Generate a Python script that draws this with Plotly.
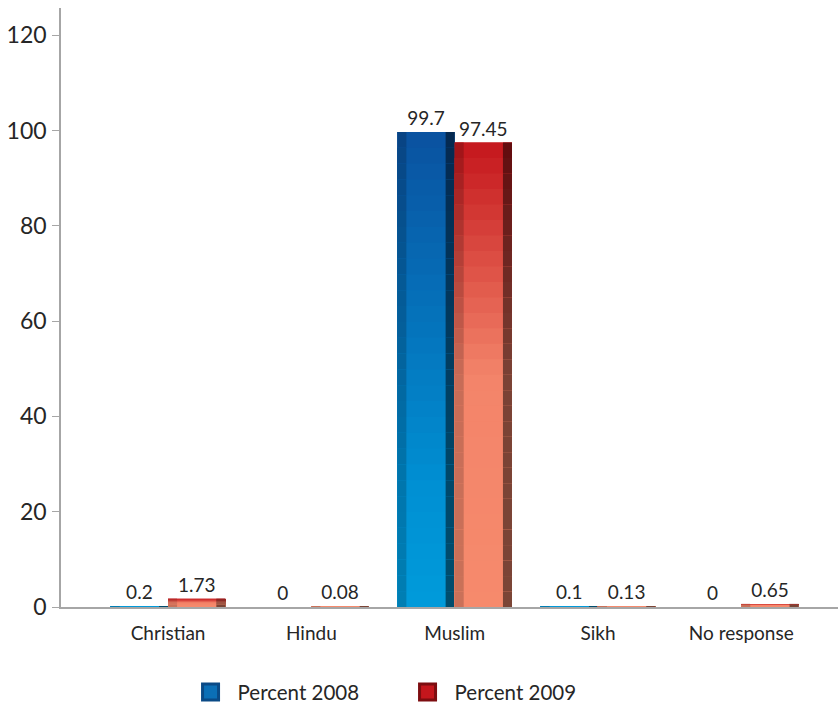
import plotly.graph_objects as go

categories = ["Christian", "Hindu", "Muslim", "Sikh", "No response"]
percent_2008 = [0.2, 0, 99.7, 0.1, 0]
percent_2009 = [1.73, 0.08, 97.45, 0.13, 0.65]
labels_2008 = ["0.2", "0", "99.7", "0.1", "0"]
labels_2009 = ["1.73", "0.08", "97.45", "0.13", "0.65"]
y_ticks = [0, 20, 40, 60, 80, 100, 120]

FONT = "Lato, 'Open Sans', sans-serif"
N_SEG = 30
BAR_W = 0.4
STRIP_W = 0.063


def hex2rgb(h):
    h = h.lstrip("#")
    return tuple(int(h[i:i + 2], 16) for i in (0, 2, 4))


def mix(c1, c2, t, k=1.0):
    a, b = hex2rgb(c1), hex2rgb(c2)
    return "rgb(%d,%d,%d)" % tuple(round((a[i] + (b[i] - a[i]) * t) * k) for i in range(3))


def blue_at(t, k=1.0):  # t: 0 bottom -> 1 top
    if t < 0.25:
        return mix("#009bdb", "#0090d3", t / 0.25, k)
    return mix("#0090d3", "#0a52a0", (t - 0.25) / 0.75, k)


def red_at(t, k=1.0):
    if t < 0.5:
        return mix("#f68a6c", "#f3846a", t / 0.5, k)
    return mix("#f3846a", "#c4161c", (t - 0.5) / 0.5, k)


fig = go.Figure()

series = [
    ("Percent 2008", percent_2008, labels_2008, -BAR_W, "#0b6fb6", "#0a4a86", blue_at),
    ("Percent 2009", percent_2009, labels_2009, 0.0, "#c4161c", "#7d0d10", red_at),
]

# base bars with value labels
for name, vals, labs, off, color, dark, cfun in series:
    fig.add_trace(go.Bar(
        name=name, x=categories, y=vals, offset=off, width=BAR_W,
        marker=dict(color=cfun(1.0), line=dict(width=0)),
        text=labs, textposition="outside", cliponaxis=False,
        textfont=dict(family=FONT, size=19, color="#262626"),
        showlegend=False, hoverinfo="skip",
    ))

# gradient shading: overlapping bars, tallest first
for name, vals, labs, off, color, dark, cfun in series:
    for i in range(N_SEG, 0, -1):
        t = (i - 0.5) / N_SEG
        yv = [v * i / N_SEG for v in vals]
        for o, w, k in ((off, BAR_W, 1.0),
                        (off, STRIP_W, 0.82),
                        (off + BAR_W - STRIP_W, STRIP_W, 0.5)):
            fig.add_trace(go.Bar(
                x=categories, y=yv, offset=o, width=w,
                marker=dict(color=cfun(t, k), line=dict(width=0)),
                showlegend=False, hoverinfo="skip",
            ))

# legend entries
for name, vals, labs, off, color, dark, cfun in series:
    fig.add_trace(go.Scatter(
        name=name, x=[None], y=[None], mode="markers",
        marker=dict(symbol="square", size=18, color=color,
                    line=dict(color=dark, width=3)),
        showlegend=True,
    ))

fig.update_layout(
    width=840, height=704,
    paper_bgcolor="white", plot_bgcolor="white",
    margin=dict(l=61, r=2, t=8, b=97, autoexpand=False),
    barmode="overlay",
    font=dict(family=FONT, color="#262626"),
    legend=dict(
        orientation="h", x=0.437, xanchor="center", y=-0.142, yanchor="middle",
        font=dict(family=FONT, size=20.5, color="#262626"),
        entrywidth=158, entrywidthmode="pixels", itemwidth=44,
    ),
)

fig.update_xaxes(
    range=[-0.747, 4.675], showgrid=False, showline=True,
    linecolor="#a6a6a6", linewidth=2, ticks="", ticklabelstandoff=8,
    tickfont=dict(family=FONT, size=19, color="#262626"), zeroline=False,
    automargin=False,
)
fig.update_yaxes(
    range=[0, 125.7], tickvals=y_ticks, showgrid=False, showline=True,
    linecolor="#a6a6a6", linewidth=1.5, ticks="outside", ticklen=7,
    tickcolor="#a6a6a6", tickfont=dict(family=FONT, size=23, color="#262626"),
    zeroline=False, ticklabelstandoff=1, automargin=False,
)

fig.write_html(
    "out.html",
    config={"displayModeBar": False},
    post_script="document.body.style.margin='0';document.body.style.overflow='hidden';",
)
